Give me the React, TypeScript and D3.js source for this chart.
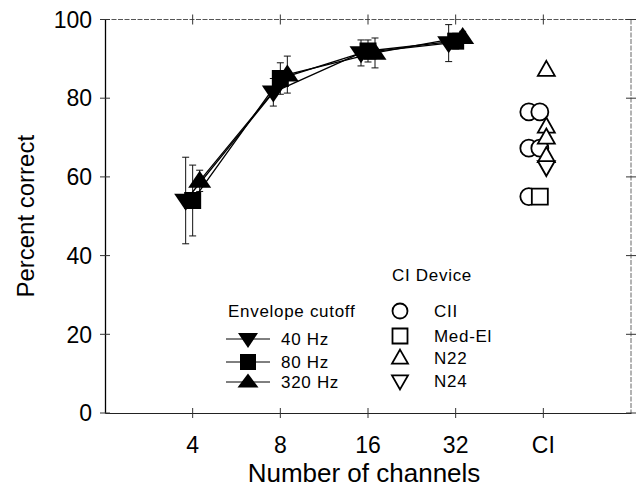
import React, { useEffect, useRef } from "react";
import * as d3 from "d3";

// number of channels (CI = implant users, drawn at the next octave)
const channels = [4, 8, 16, 32];
const xTickValues = [4, 8, 16, 32, 64];
const xTickLabels = ["4", "8", "16", "32", "CI"];
const yTicks = [0, 20, 40, 60, 80, 100];

// envelope cutoff series: means and error (+/-)
const hz40 = [54, 81.5, 91.5, 94];
const hz40Err = [11, 3.5, 3.3, 4.7];
const hz80 = [54, 85, 92, 94.5];
const hz80Err = [9, 4, 2.8, 2];
const hz320 = [59, 86, 91.5, 95.5];
const hz320Err = [2.7, 4.7, 3.8, 1.5];

// CI listeners by device
const cii = [76.5, 76.5, 67.3, 67.3, 55];
const medEl = [55];
const n22 = [87.2, 72.8, 70, 65.3];
const n24 = [62.5];

const FONT = "Arial, 'Liberation Sans', Helvetica, sans-serif";

const App = () => {
  const ref = useRef<HTMLDivElement>(null);

  useEffect(() => {
    const W = 642;
    const H = 489;
    const left = 105;
    const right = 631;
    const top = 19.5;
    const bottom = 413;

    d3.select(ref.current).select("svg").remove();

    const svg = d3
      .select(ref.current)
      .append("svg")
      .attr("width", W)
      .attr("height", H)
      .style("display", "block")
      .style("background", "#fff")
      .style("font-family", FONT);

    const x = d3.scaleLog().base(2).domain([2, 128]).range([left, right]);
    const y = d3.scaleLinear().domain([0, 100]).range([bottom, top]);

    // frame: top and right are lighter dashed lines
    svg
      .append("line")
      .attr("x1", left)
      .attr("x2", right)
      .attr("y1", top)
      .attr("y2", top)
      .attr("stroke", "#555")
      .attr("stroke-dasharray", "5,1.5");
    svg
      .append("line")
      .attr("x1", right)
      .attr("x2", right)
      .attr("y1", top)
      .attr("y2", bottom)
      .attr("stroke", "#666")
      .attr("stroke-dasharray", "5,1.5");

    // left axis
    const yAxis = svg
      .append("g")
      .attr("transform", `translate(${left},0)`)
      .call(d3.axisLeft(y).tickValues(yTicks).tickSize(0).tickFormat(() => ""));
    yAxis.select(".domain").attr("stroke", "#000").attr("stroke-width", 1.3);

    // bottom axis
    const xAxis = svg
      .append("g")
      .attr("transform", `translate(0,${bottom})`)
      .call(d3.axisBottom(x).tickValues(xTickValues).tickSize(0).tickFormat(() => ""));
    xAxis.select(".domain").attr("stroke", "#222").attr("stroke-width", 1.2);

    // crossing ticks on all four sides
    const tickLen = 5;
    yTicks.forEach((v) => {
      [left, right].forEach((xx) => {
        svg
          .append("line")
          .attr("x1", xx - tickLen)
          .attr("x2", xx + tickLen)
          .attr("y1", y(v))
          .attr("y2", y(v))
          .attr("stroke", "#333");
      });
      svg
        .append("text")
        .attr("x", 92)
        .attr("y", y(v))
        .attr("dy", "0.36em")
        .attr("text-anchor", "end")
        .style("font-size", "23px")
        .text(v);
    });

    xTickValues.forEach((v, i) => {
      [top, bottom].forEach((yy) => {
        svg
          .append("line")
          .attr("x1", x(v))
          .attr("x2", x(v))
          .attr("y1", yy - tickLen)
          .attr("y2", yy + tickLen)
          .attr("stroke", "#333");
      });
      svg
        .append("text")
        .attr("x", x(v))
        .attr("y", 453)
        .attr("text-anchor", "middle")
        .style("font-size", "23px")
        .text(xTickLabels[i]);
    });

    // axis titles
    svg
      .append("text")
      .attr("x", 364)
      .attr("y", 482)
      .attr("text-anchor", "middle")
      .style("font-size", "26px")
      .text("Number of channels");
    svg
      .append("text")
      .attr("transform", `translate(34,${(top + bottom) / 2}) rotate(-90)`)
      .attr("text-anchor", "middle")
      .style("font-size", "24px")
      .text("Percent correct");

    // marker shapes
    const tri = (w: number, h: number, up: boolean) =>
      up
        ? `M0,${-h * 0.6}L${w / 2},${h * 0.4}L${-w / 2},${h * 0.4}Z`
        : `M0,${h * 0.6}L${w / 2},${-h * 0.4}L${-w / 2},${-h * 0.4}Z`;
    const sq = (s: number) => `M${-s / 2},${-s / 2}h${s}v${s}h${-s}Z`;

    const series = [
      { vals: hz40, err: hz40Err, dx: -7, path: tri(23, 17, false) },
      { vals: hz80, err: hz80Err, dx: 0, path: sq(17) },
      { vals: hz320, err: hz320Err, dx: 7, path: tri(23, 17, true) },
    ];

    const line = d3
      .line<number>()
      .x((d, i) => x(channels[i]))
      .y((d) => y(d));

    // error bars first
    series.forEach((s) => {
      const g = svg.append("g").attr("stroke", "#111").attr("stroke-width", 1);
      s.vals.forEach((v, i) => {
        const cx = x(channels[i]) + s.dx;
        const y1 = y(v - s.err[i]);
        const y2 = y(v + s.err[i]);
        g.append("line").attr("x1", cx).attr("x2", cx).attr("y1", y1).attr("y2", y2);
        [y1, y2].forEach((yy) =>
          g.append("line").attr("x1", cx - 3.5).attr("x2", cx + 3.5).attr("y1", yy).attr("y2", yy)
        );
      });
    });

    // lines
    series.forEach((s) => {
      svg
        .append("path")
        .datum(s.vals)
        .attr("transform", `translate(${s.dx},0)`)
        .attr("fill", "none")
        .attr("stroke", "#000")
        .attr("stroke-width", 1.3)
        .attr("d", line);
    });

    // markers
    series.forEach((s) => {
      svg
        .append("g")
        .selectAll("path")
        .data(s.vals)
        .enter()
        .append("path")
        .attr("transform", (d, i) => `translate(${x(channels[i]) + s.dx},${y(d)})`)
        .attr("d", s.path)
        .attr("fill", "#000");
    });

    // CI device points
    const ciX = x(64);
    const open = (sel: any) =>
      sel.attr("fill", "#fff").attr("stroke", "#000").attr("stroke-width", 1.8);

    cii.forEach((v, i) => {
      open(
        svg
          .append("circle")
          .attr("cx", ciX + (i % 2 === 0 ? -14.5 : -3.5))
          .attr("cy", y(v))
          .attr("r", 8.5)
      );
    });
    medEl.forEach((v) => {
      open(svg.append("path").attr("transform", `translate(${ciX - 3.5},${y(v)})`).attr("d", sq(16)));
    });
    n22.forEach((v) => {
      open(
        svg
          .append("path")
          .attr("transform", `translate(${ciX + 3},${y(v)})`)
          .attr("d", tri(17, 15, true))
      );
    });
    n24.forEach((v) => {
      open(
        svg
          .append("path")
          .attr("transform", `translate(${ciX + 3},${y(v)})`)
          .attr("d", tri(17, 15, false))
      );
    });

    // legend: envelope cutoff
    const leg1 = svg.append("g").style("font-size", "17px").style("letter-spacing", "0.7px");
    leg1.append("text").attr("x", 228).attr("y", 317).text("Envelope cutoff");
    const leg1Rows = [
      { label: "40 Hz", cy: 339, path: tri(20, 15, false) },
      { label: "80 Hz", cy: 362, path: sq(16) },
      { label: "320 Hz", cy: 382, path: tri(21, 14, true) },
    ];
    leg1Rows.forEach((r) => {
      leg1
        .append("line")
        .attr("x1", 226)
        .attr("x2", 270)
        .attr("y1", r.cy)
        .attr("y2", r.cy)
        .attr("stroke", "#000");
      leg1.append("path").attr("transform", `translate(248,${r.cy})`).attr("d", r.path).attr("fill", "#000");
      leg1
        .append("text")
        .attr("x", 281)
        .attr("y", r.cy)
        .attr("dy", "0.36em")
        .text(r.label);
    });

    // legend: CI device
    const leg2 = svg.append("g").style("font-size", "17px").style("letter-spacing", "0.7px");
    leg2.append("text").attr("x", 392).attr("y", 281).text("CI Device");
    const leg2Rows = [
      { label: "CII", cy: 311, kind: "circle" },
      { label: "Med-El", cy: 336, path: sq(15) },
      { label: "N22", cy: 358, path: tri(16, 14, true) },
      { label: "N24", cy: 381, path: tri(16, 14, false) },
    ];
    leg2Rows.forEach((r) => {
      if (r.kind === "circle") {
        open(leg2.append("circle").attr("cx", 400).attr("cy", r.cy).attr("r", 7.5));
      } else {
        open(leg2.append("path").attr("transform", `translate(400,${r.cy})`).attr("d", r.path));
      }
      leg2
        .append("text")
        .attr("x", 434)
        .attr("y", r.cy)
        .attr("dy", "0.36em")
        .text(r.label);
    });
  }, []);

  return <div ref={ref} style={{ position: "absolute", left: 0, top: 0 }}></div>;
};

export default App;
